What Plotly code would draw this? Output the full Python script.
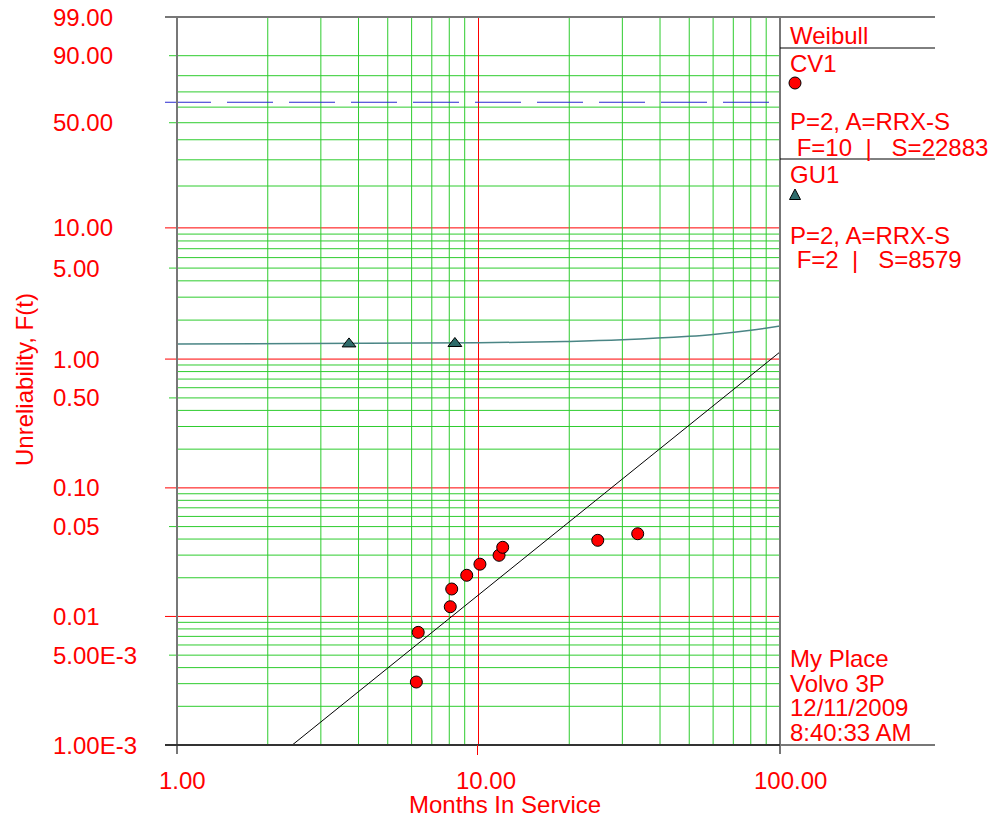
import numpy as np
import plotly.graph_objects as go

# ---------------- data ----------------
# CV1 failures: months in service, unreliability in percent
cv1_months = [6.31, 6.22, 8.06, 8.15, 9.14, 10.11, 11.70, 12.03, 24.86, 33.73]
cv1_unrel = [0.00752, 0.00309, 0.0119, 0.01635, 0.0209, 0.0255, 0.0299, 0.0345, 0.0391, 0.0440]

# GU1 failures
gu1_months = [3.72, 8.35]
gu1_unrel = [1.31, 1.32]

# CV1 Weibull fit (2-parameter)
cv1_beta = 1.89
cv1_eta = 1066.0

# GU1 fitted curve
gu1_curve_months = [1, 10, 20, 30, 50, 60, 80, 100]
gu1_curve_unrel = [1.31, 1.335, 1.37, 1.41, 1.50, 1.55, 1.67, 1.80]

# characteristic life level (percent)
char_life_level = 63.212

# axis ticks
y_tick_vals = [99, 90, 50, 10, 5, 1, 0.5, 0.1, 0.05, 0.01, 0.005, 0.001]
y_tick_text = ["99.00", "90.00", "50.00", "10.00", "5.00", "1.00", "0.50",
               "0.10", "0.05", "0.01", "5.00E-3", "1.00E-3"]
x_tick_vals = [1, 10, 100]
x_tick_text = ["1.00", "10.00", "100.00"]

# grid values
x_minor = [2, 3, 4, 5, 6, 7, 8, 9, 20, 30, 40, 50, 60, 70, 80, 90]
x_major = [10]
y_red = [10, 1, 0.1, 0.01]
y_green_labeled = [90, 50, 5, 0.5, 0.05, 0.005]
y_green = [80, 70, 60, 40, 30, 20, 9, 8, 7, 6, 4, 3, 2,
           0.9, 0.8, 0.7, 0.6, 0.4, 0.3, 0.2,
           0.09, 0.08, 0.07, 0.06, 0.04, 0.03, 0.02,
           0.009, 0.008, 0.007, 0.006, 0.004, 0.003, 0.002]

# legend panel text
panel_lines = [("Weibull", 35), ("CV1", 63), ("P=2, A=RRX-S", 122),
               ("\u00a0F=10\u00a0\u00a0|\u00a0\u00a0\u00a0S=22883", 147),
               ("GU1", 174.5), ("P=2, A=RRX-S", 235),
               ("\u00a0F=2\u00a0\u00a0|\u00a0\u00a0\u00a0S=8579", 260),
               ("My Place", 658.5), ("Volvo 3P", 683), ("12/11/2009", 707.5),
               ("8:40:33 AM", 732)]


def W(p):
    """Weibull probability-paper transform of unreliability in percent."""
    p = np.asarray(p, dtype=float) / 100.0
    return np.log(-np.log(1.0 - p))


# ---------------- layout geometry ----------------
# the page body adds an 8px offset, so the figure is drawn 8px smaller
OFF = 8
WIDTH, HEIGHT = 997 - OFF, 817 - OFF
L, R, T, B = 177, 780, 17, 745          # plot box in window pixels
PW, PH = R - L, B - T


def px_x(px):
    return (px - L) / PW


def px_y(py):
    return 1 - (py - T) / PH


RED = "#ff0000"
GREEN = "#2ecc2e"
TEAL = "#2f6b6b"
FONT = "Arial, Liberation Sans, sans-serif"
ylo, yhi = float(W(y_tick_vals[-1])), float(W(y_tick_vals[0]))

fig = go.Figure()

# vertical grid lines as traces
gx, gy = [], []
for t in x_minor:
    gx += [t, t, None]
    gy += [ylo, yhi, None]
fig.add_trace(go.Scatter(x=gx, y=gy, mode="lines", line=dict(color=GREEN, width=1),
                         hoverinfo="skip", showlegend=False))
rx, ry = [], []
for t in x_major:
    rx += [t, t, None]
    ry += [ylo, yhi, None]
fig.add_trace(go.Scatter(x=rx, y=ry, mode="lines", line=dict(color=RED, width=1),
                         hoverinfo="skip", showlegend=False))

# GU1 curve
fig.add_trace(go.Scatter(x=gu1_curve_months, y=W(gu1_curve_unrel), mode="lines",
                         line=dict(color="#4a8585", width=1.5, shape="spline", smoothing=1.0),
                         hoverinfo="skip", showlegend=False))

# CV1 fit line
t_line = np.logspace(0, 2, 200)
y_line = cv1_beta * (np.log(t_line) - np.log(cv1_eta))
fig.add_trace(go.Scatter(x=t_line, y=y_line, mode="lines",
                         line=dict(color="black", width=1),
                         hoverinfo="skip", showlegend=False))

# data points
fig.add_trace(go.Scatter(x=cv1_months, y=W(cv1_unrel), mode="markers", name="CV1",
                         marker=dict(symbol="circle", size=12, color=RED,
                                     line=dict(color="black", width=1)),
                         showlegend=False))
fig.add_trace(go.Scatter(x=gu1_months, y=W(gu1_unrel), mode="markers", name="GU1",
                         marker=dict(symbol="triangle-up", size=12, color=TEAL,
                                     line=dict(color="black", width=1)),
                         showlegend=False))

shapes = []
# horizontal grid lines
for v in y_green:
    shapes.append(dict(type="line", xref="paper", yref="y", x0=0, x1=1, y0=float(W(v)), y1=float(W(v)),
                       line=dict(color=GREEN, width=1), layer="below"))
for v in y_green_labeled:
    shapes.append(dict(type="line", xref="paper", yref="y", x0=px_x(169), x1=1, y0=float(W(v)), y1=float(W(v)),
                       line=dict(color=GREEN, width=1), layer="below"))
for v in y_red:
    shapes.append(dict(type="line", xref="paper", yref="y", x0=px_x(165), x1=1, y0=float(W(v)), y1=float(W(v)),
                       line=dict(color=RED, width=1), layer="below"))
# characteristic life dashed line
shapes.append(dict(type="line", xref="paper", yref="y", x0=px_x(165), x1=1,
                   y0=float(W(char_life_level)), y1=float(W(char_life_level)),
                   line=dict(color="#2a2ad0", width=1, dash="46px,16px"), layer="above"))
# frame
GRAY = "#777777"
shapes += [
    dict(type="line", xref="paper", yref="paper", x0=px_x(165), x1=px_x(935), y0=1, y1=1,
         line=dict(color=GRAY, width=2)),
    dict(type="line", xref="paper", yref="paper", x0=0, x1=0, y0=px_y(754), y1=1,
         line=dict(color=GRAY, width=2)),
    dict(type="line", xref="paper", yref="paper", x0=1, x1=1, y0=px_y(754), y1=1,
         line=dict(color=GRAY, width=2)),
    dict(type="line", xref="paper", yref="paper", x0=px_x(165), x1=1, y0=0, y1=0,
         line=dict(color="#333333", width=2)),
    dict(type="line", xref="paper", yref="paper", x0=1, x1=px_x(935), y0=0, y1=0,
         line=dict(color=GRAY, width=2)),
    dict(type="line", xref="paper", yref="paper", x0=px_x(477.5), x1=px_x(477.5),
         y0=px_y(755), y1=0, line=dict(color=RED, width=1)),
    dict(type="line", xref="paper", yref="paper", x0=1, x1=px_x(935), y0=px_y(48), y1=px_y(48),
         line=dict(color="black", width=1)),
    dict(type="line", xref="paper", yref="paper", x0=1, x1=px_x(935), y0=px_y(159), y1=px_y(159),
         line=dict(color="black", width=1)),
]
# legend glyphs in the side panel
shapes.append(dict(type="circle", xref="paper", yref="paper",
                   xsizemode="pixel", ysizemode="pixel",
                   xanchor=px_x(795), yanchor=px_y(83), x0=-6, x1=6, y0=-6, y1=6,
                   fillcolor=RED, line=dict(color="black", width=1)))
shapes.append(dict(type="path", xref="paper", yref="paper",
                   xsizemode="pixel", ysizemode="pixel",
                   xanchor=px_x(795), yanchor=px_y(195),
                   path="M -5.5,-4.5 L 5.5,-4.5 L 0,6 Z",
                   fillcolor=TEAL, line=dict(color="black", width=1)))

annotations = []
for v, txt in zip(y_tick_vals, y_tick_text):
    annotations.append(dict(xref="paper", yref="y", x=px_x(51), y=float(W(v)), text=txt,
                            xanchor="left", yanchor="middle", showarrow=False,
                            font=dict(family=FONT, size=24, color=RED)))
for v, txt, sh in zip(x_tick_vals, x_tick_text, [5, 7, 10]):
    annotations.append(dict(xref="x", yref="paper", x=float(np.log10(v)), y=px_y(780), text=txt,
                            xanchor="center", yanchor="middle", xshift=sh, showarrow=False,
                            font=dict(family=FONT, size=24, color=RED)))
annotations.append(dict(xref="paper", yref="paper", x=px_x(505), y=px_y(804), 
                        text="Months In Service", xanchor="center", yanchor="middle",
                        showarrow=False, font=dict(family=FONT, size=24, color=RED)))
annotations.append(dict(xref="paper", yref="paper", x=px_x(24), y=px_y(380),
                        text="Unreliability, F(t)", textangle=-90, xanchor="center",
                        yanchor="middle", showarrow=False,
                        font=dict(family=FONT, size=24, color=RED)))
for txt, yc in panel_lines:
    annotations.append(dict(xref="paper", yref="paper", x=px_x(788), y=px_y(yc), text=txt,
                            xanchor="left", yanchor="middle", showarrow=False,
                            font=dict(family=FONT, size=24, color=RED)))

fig.update_layout(
    width=WIDTH, height=HEIGHT, autosize=False,
    margin=dict(l=L - OFF, r=997 - R, t=T - OFF, b=817 - B, pad=0),
    paper_bgcolor="white", plot_bgcolor="white",
    xaxis=dict(type="log", range=[0, 2], showgrid=False, zeroline=False, showline=False,
               showticklabels=False, ticks="", automargin=False),
    yaxis=dict(range=[ylo, yhi], showgrid=False, zeroline=False, showline=False,
               showticklabels=False, ticks="", automargin=False),
    shapes=shapes, annotations=annotations, showlegend=False,
)

fig.write_html("out.html")
